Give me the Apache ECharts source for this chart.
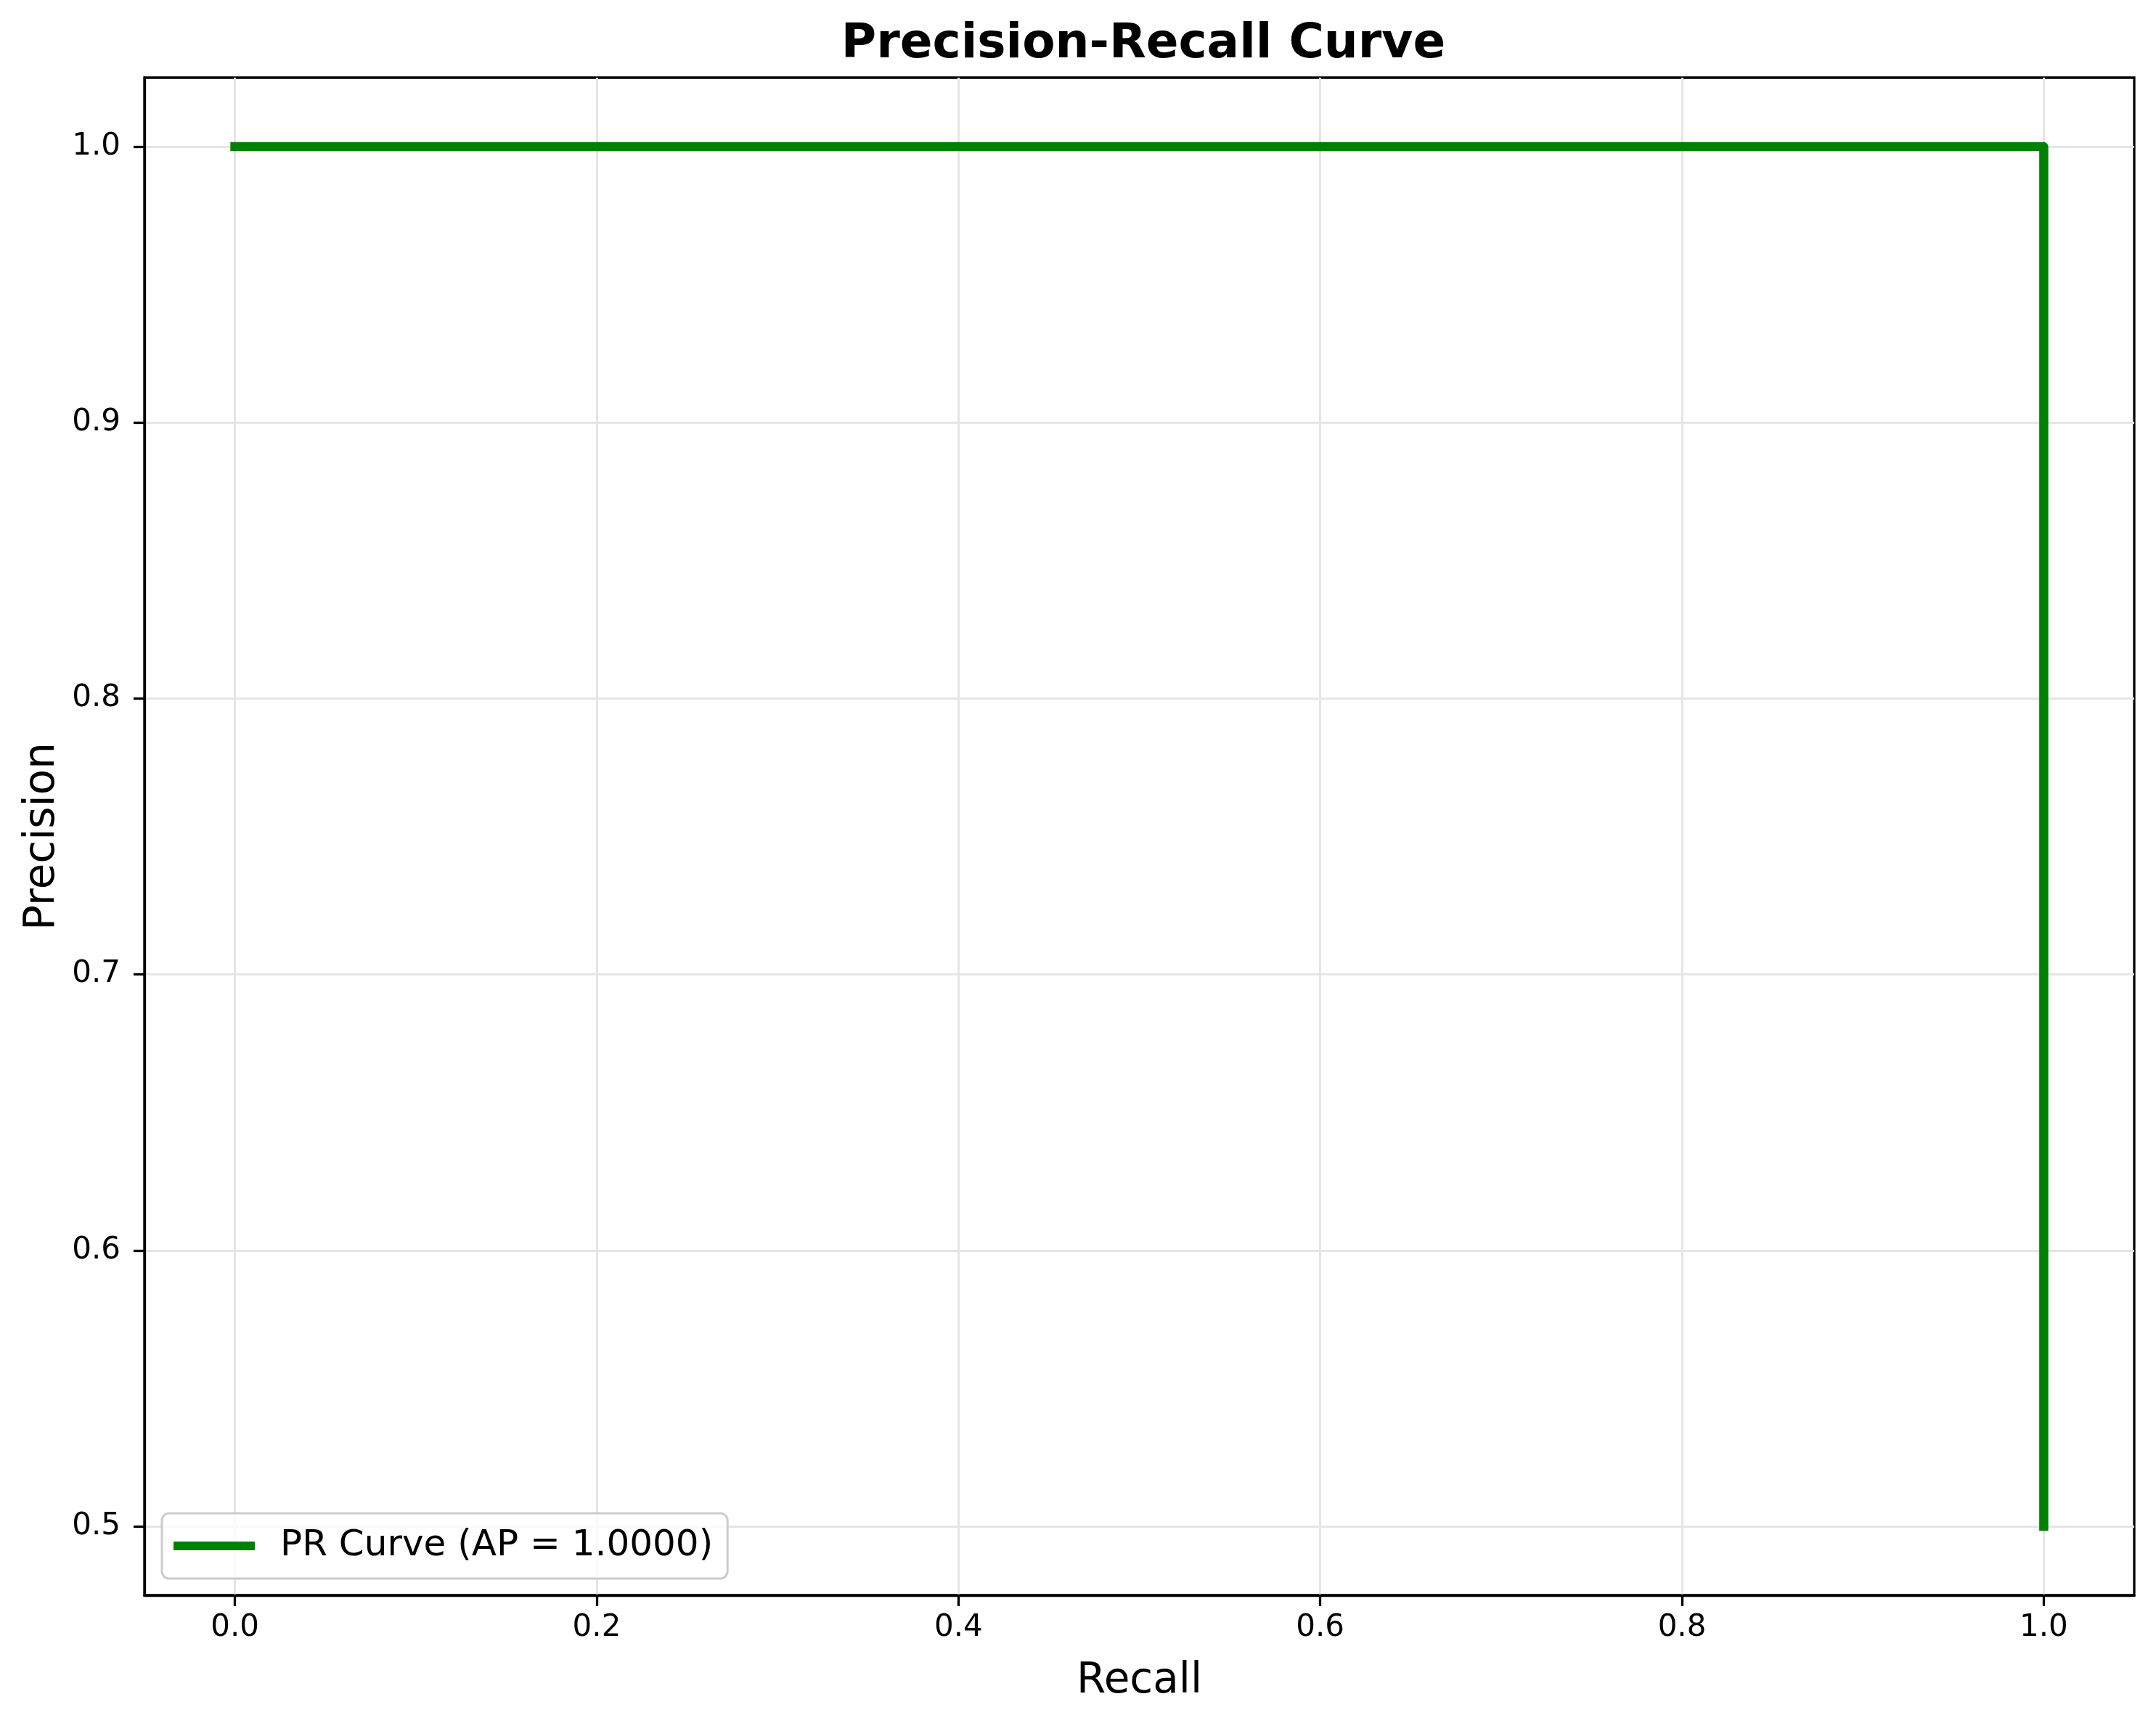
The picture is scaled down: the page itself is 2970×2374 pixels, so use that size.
<!DOCTYPE html>
<html lang="en" style="height: 100%">
<head>
    <meta charset="utf-8">
</head>
<body style="height: 100%; margin: 0; background: #ffffff">
<div id="container" style="height: 100%"></div>

<script type="text/javascript" src="https://fastly.jsdelivr.net/npm/echarts@6.0.0/dist/echarts.min.js"></script>

<script type="text/javascript">
    // curve points
    var recall = [0.0, 1.0, 1.0];
    var precision = [1.0, 1.0, 0.5];
    var seriesName = 'PR Curve (AP = 1.0000)';

    // tick positions
    var xTicks = [0.0, 0.2, 0.4, 0.6, 0.8, 1.0];
    var yTicks = [0.5, 0.6, 0.7, 0.8, 0.9, 1.0];

    var FONT = 'DejaVu Sans';

    var dom = document.getElementById('container');
    var myChart = echarts.init(dom, null, {
        renderer: 'canvas',
        useDirtyRect: false
    });

    var points = recall.map(function (r, i) {
        return [r, precision[i]];
    });

    var option = {
        animation: false,
        backgroundColor: '#ffffff',
        title: {
            text: 'Precision-Recall Curve',
            left: 1570,
            textAlign: 'center',
            top: 24,
            textStyle: {
                fontFamily: FONT,
                fontSize: 66,
                fontWeight: 'bold',
                color: '#000'
            }
        },
        legend: {
            data: [seriesName],
            left: 223,
            top: 2085,
            orient: 'vertical',
            icon: 'rect',
            itemWidth: 112,
            itemHeight: 12,
            padding: [20, 20, 20, 16],
            backgroundColor: 'rgba(255,255,255,0.8)',
            borderColor: '#cccccc',
            borderWidth: 3,
            borderRadius: 10,
            textStyle: {
                fontFamily: FONT,
                fontSize: 50,
                color: '#000',
                padding: [0, 0, 0, 30]
            }
        },
        grid: {
            left: 199,
            right: 30,
            top: 107,
            bottom: 176,
            show: true,
            borderColor: '#000',
            borderWidth: 3.3,
            containLabel: false
        },
        xAxis: {
            type: 'value',
            min: -0.05,
            max: 1.05,
            name: 'Recall',
            nameLocation: 'middle',
            nameGap: 90,
            nameTextStyle: {
                fontFamily: FONT,
                fontSize: 58,
                color: '#000'
            },
            axisLine: { show: true, onZero: false, lineStyle: { color: '#000', width: 3.3 } },
            axisTick: {
                show: true,
                customValues: xTicks,
                length: 15,
                lineStyle: { color: '#000', width: 3.3 }
            },
            axisLabel: {
                customValues: xTicks,
                margin: 24,
                fontFamily: FONT,
                fontSize: 42,
                color: '#000',
                formatter: function (v) { return v.toFixed(1); }
            },
            splitLine: {
                show: true,
                lineStyle: { color: '#e5e5e5', width: 3 }
            }
        },
        yAxis: {
            type: 'value',
            min: 0.475,
            max: 1.025,
            name: 'Precision',
            nameLocation: 'middle',
            nameRotate: 90,
            nameGap: 96,
            nameTextStyle: {
                fontFamily: FONT,
                fontSize: 58,
                color: '#000'
            },
            axisLine: { show: true, onZero: false, lineStyle: { color: '#000', width: 3.3 } },
            axisTick: {
                show: true,
                customValues: yTicks,
                length: 15,
                lineStyle: { color: '#000', width: 3.3 }
            },
            axisLabel: {
                customValues: yTicks,
                margin: 33,
                fontFamily: FONT,
                fontSize: 42,
                color: '#000',
                formatter: function (v) { return v.toFixed(1); }
            },
            splitLine: {
                show: true,
                lineStyle: { color: '#e5e5e5', width: 3 }
            }
        },
        series: [
            {
                name: seriesName,
                type: 'line',
                data: points,
                showSymbol: false,
                symbol: 'none',
                clip: false,
                color: '#008000',
                lineStyle: {
                    color: '#008000',
                    width: 12.5,
                    cap: 'square',
                    join: 'round'
                }
            }
        ]
    };

    myChart.setOption(option);
    window.addEventListener('resize', myChart.resize);
</script>
</body>
</html>
